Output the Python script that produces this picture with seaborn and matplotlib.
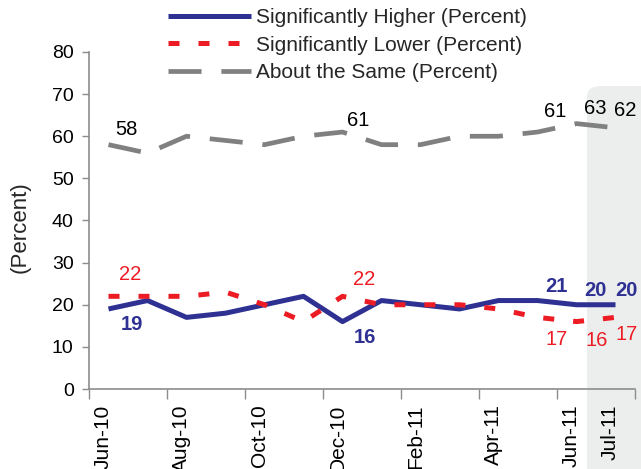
import numpy as np
import pandas as pd
import matplotlib
matplotlib.use("Agg")
import matplotlib.pyplot as plt
import matplotlib.transforms as mtransforms
from matplotlib.patches import FancyBboxPatch
import seaborn as sns

# ---------------- data ----------------
months = ["Jun-10", "Jul-10", "Aug-10", "Sep-10", "Oct-10", "Nov-10", "Dec-10",
          "Jan-11", "Feb-11", "Mar-11", "Apr-11", "May-11", "Jun-11", "Jul-11"]
higher = [19, 21, 17, 18, 20, 22, 16, 21, 20, 19, 21, 21, 20, 20]
lower = [22, 22, 22, 23, 20, 16, 22, 20, 20, 20, 19, 17, 16, 17]
same = [58, 56, 60, 59, 58, 60, 61, 58, 58, 60, 60, 61, 63, 62]
tick_labels = ["Jun-10", "Aug-10", "Oct-10", "Dec-10", "Feb-11", "Apr-11", "Jun-11", "Jul-11"]
series_names = ["Significantly Higher (Percent)", "Significantly Lower (Percent)",
                "About the Same (Percent)"]

# labelled points (month indices)
same_labeled = [0, 6, 11, 12, 13]
higher_labeled = [0, 6, 11, 12, 13]
lower_labeled = [0, 6, 11, 12, 13]

# ---------------- style ----------------
sns.set_theme(style="white")
plt.rcParams["font.family"] = ["Liberation Sans", "DejaVu Sans"]

BLUE = "#2E3192"
RED = "#ED1C24"
GRAY = "#808080"
AXC = "#8C8C8C"

W, H = 641, 469
fig = plt.figure(figsize=(W / 100, H / 100), dpi=100)
ax = fig.add_axes([89 / W, (H - 389) / H, (635 - 89) / W, (389 - 52) / H])
ax.set_facecolor("none")

# highlight box for latest month
box = FancyBboxPatch((587 / W, -0.05), 0.2, (H - 86) / H + 0.05,
                     boxstyle="round,pad=0,rounding_size=0.022",
                     transform=fig.transFigure, facecolor="#ECEEEE",
                     edgecolor="none", zorder=-1)
fig.patches.append(box)

x = np.arange(len(months))
df = pd.DataFrame({"idx": x, "month": months, "higher": higher,
                   "lower": lower, "same": same})

sns.lineplot(data=df, x="idx", y="higher", ax=ax, color=BLUE, linewidth=3.6,
             label=series_names[0], estimator=None, sort=False)
sns.lineplot(data=df, x="idx", y="lower", ax=ax, color=RED, linewidth=3.6,
             label=series_names[1], estimator=None, sort=False)
sns.lineplot(data=df, x="idx", y="same", ax=ax, color=GRAY, linewidth=3.4,
             label=series_names[2], estimator=None, sort=False)

lines = ax.get_lines()
lines[0].set_solid_capstyle("butt")
lines[1].set_linestyle((0, (2.2, 3.8)))
lines[1].set_dash_capstyle("butt")
lines[2].set_linestyle((0, (7.0, 4.2)))
lines[2].set_dash_capstyle("butt")

# ---------------- axes ----------------
ax.set_xlim(-0.5, len(months) - 0.5)
ax.set_ylim(0, 80)
ax.set_yticks(np.arange(0, 81, 10))
ax.tick_params(axis="y", which="major", direction="out", length=5, width=1,
               color=AXC, labelsize=14, pad=6, left=True, labelcolor="black")

tick_pos = [months.index(t) for t in tick_labels]
ax.set_xticks(tick_pos)
ax.set_xticklabels(tick_labels, rotation=90, fontsize=15)
ax.set_xticks(np.arange(-0.5, len(months), 2), minor=True)
ax.tick_params(axis="x", which="major", length=0, pad=11, labelcolor="black")
ax.tick_params(axis="x", which="minor", direction="out", length=7, width=1,
               color=AXC, bottom=True)
shift = mtransforms.ScaledTranslation(-5 / 100, 0, fig.dpi_scale_trans)
for lab in ax.get_xticklabels():
    lab.set_transform(lab.get_transform() + shift)

for s in ["top", "right"]:
    ax.spines[s].set_visible(False)
for s in ["left", "bottom"]:
    ax.spines[s].set_color(AXC)
    ax.spines[s].set_linewidth(1.2)
ax.grid(False)

ax.set_xlabel("")
ax.set_ylabel("(Percent)", fontsize=16)
ax.yaxis.set_label_coords((31 - 89) / 546, (389 - 226.7) / 337)

# ---------------- data labels ----------------
same_off = {0: (18, 15), 6: (16, 12), 11: (17.5, 21), 12: (18.5, 15), 13: (9.5, 17)}
higher_off = {0: (23, -16), 6: (22.5, -16), 11: (19, 14), 12: (18.5, 14), 13: (11, 14)}
lower_off = {0: (22, 22), 6: (21.5, 17), 11: (19, -22.6), 12: (20, -19), 13: (11, -17.6)}

for i in same_labeled:
    ax.annotate(f"{same[i]}", (x[i], same[i]), xytext=same_off[i],
                textcoords="offset pixels", ha="center", va="center",
                fontsize=14.5, color="black")
for i in higher_labeled:
    ax.annotate(f"{higher[i]}", (x[i], higher[i]), xytext=higher_off[i],
                textcoords="offset pixels", ha="center", va="center",
                fontsize=14.5, color=BLUE, fontweight="bold")
for i in lower_labeled:
    ax.annotate(f"{lower[i]}", (x[i], lower[i]), xytext=lower_off[i],
                textcoords="offset pixels", ha="center", va="center",
                fontsize=14.5, color=RED)

# ---------------- legend ----------------
handles, labels = ax.get_legend_handles_labels()
ax.get_legend().remove()
fig.legend(handles, labels, loc="upper left",
           bbox_to_anchor=(168 / W, 1 - 8 / H), bbox_transform=fig.transFigure,
           frameon=False, fontsize=15, handlelength=4.0, handletextpad=0.2,
           labelspacing=0.42, borderpad=0, borderaxespad=0)

fig.savefig("out.png", dpi=100)
